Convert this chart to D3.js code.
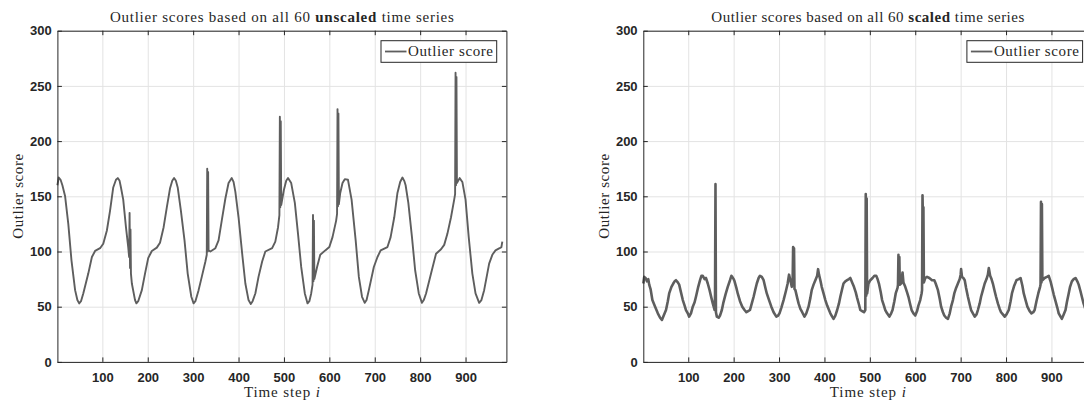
<!DOCTYPE html>
<html>
<head>
<meta charset="utf-8">
<script src="https://cdn.jsdelivr.net/npm/d3@7"></script>
<style>
  body { margin: 0; background: #fff; }
  svg { display: block; }
  .axis path, .axis line { stroke: #262626; stroke-width: 1; }
  .axis text { font-family: 'Liberation Sans', Arial, sans-serif; font-weight: bold; font-size: 13px; fill: #262626; }
  .grid line { stroke: #e3e3e3; stroke-width: 1; }
  .grid path { stroke: none; }
  .serif { font-family: 'Liberation Serif', 'Times New Roman', serif; fill: #262626; font-size: 15px; }
</style>
</head>
<body>
<script>
// unscaled series
const stepsUnscaled = [1, 4, 8, 12, 18, 25, 32, 40, 45, 49, 53, 58, 69, 77, 84, 95, 102, 110, 117, 124, 130, 134, 138, 141, 146, 152, 157,
  159, 160, 161, 162, 163, 165, 172, 175, 179, 187, 194, 201, 209, 220, 227, 235, 242, 249, 254, 258, 262, 266, 273, 281, 288, 296, 301, 305,
  312, 319, 327, 330, 331, 332, 333, 334, 338, 349, 356, 363, 371, 378, 385, 389, 393, 400, 408, 415, 422, 427, 431, 437, 444, 452, 459, 474,
  481, 487, 490, 491, 492, 493, 494, 500, 505, 509, 516, 524, 531, 538, 546, 552, 556, 560, 563, 564, 565, 566, 567, 573, 580, 591, 600, 607,
  615, 617, 618, 619, 620, 621, 624, 629, 634, 641, 649, 658, 665, 672, 678, 682, 687, 698, 706, 713, 728, 735, 743, 750, 756, 761, 765, 768,
  774, 782, 789, 797, 804, 808, 813, 824, 835, 846, 853, 860, 868, 875, 877, 878, 879, 880, 881, 887, 893, 900, 907, 915, 922, 930, 935, 941,
  952, 959, 966, 975, 979, 981]
const scoresUnscaled = [160, 167, 165, 160, 150, 125, 92, 65, 56, 53, 55, 62, 80, 95, 100.5, 103, 107, 119, 137, 158, 165, 166.5, 164, 158, 147, 122, 104,
  95, 135, 85, 120, 80, 71, 56, 53, 55, 65, 80, 94, 100.5, 103.5, 108, 122, 140, 157, 164, 166.5, 164, 158, 137, 110, 80, 59, 53, 55,
  65, 77, 91, 97, 175, 100, 172, 101, 100, 103, 110, 128, 148, 162, 166.5, 163, 154, 131, 98, 71, 56, 52.5, 55, 62, 77, 91, 100, 103,
  109, 122, 133, 222, 140, 218, 142, 156, 164, 166.5, 162, 144, 116, 86, 62, 53, 55, 62, 70, 133, 73, 128, 75, 86, 97, 101, 104, 113,
  128, 134, 229, 141, 225, 143, 153, 162, 165.5, 165, 147, 110, 77, 59, 53.5, 56, 65, 86, 95, 101, 104, 113, 131, 153, 163, 167, 164, 160,
  144, 113, 83, 62, 53.5, 56, 62, 80, 98, 102, 106, 116, 131, 147, 152, 262, 160, 258, 162, 166.5, 163, 147, 113, 80, 62, 53.5, 56, 65,
  89, 97, 101, 103, 104, 109]

// scaled series
const stepsScaled = [1, 3, 6, 9, 12, 14, 17, 21, 27, 33, 38, 42, 46, 51, 55, 58, 63, 67, 70, 73, 77, 80, 84, 88, 92, 95, 99, 102, 106, 110,
  114, 117, 122, 126, 129, 132, 136, 139, 143, 147, 151, 154, 158, 159, 160, 161, 163, 167, 170, 174, 177, 182, 187, 192, 195, 197, 200, 202,
  206, 209, 214, 219, 224, 228, 232, 236, 240, 244, 248, 251, 255, 258, 262, 266, 270, 273, 278, 283, 288, 294, 298, 301, 305, 310, 315, 319,
  322, 325, 328, 330, 331, 332, 333, 334, 336, 340, 343, 347, 351, 356, 360, 365, 369, 372, 376, 380, 384, 386, 388, 391, 394, 398, 402, 406,
  410, 413, 417, 420, 424, 428, 432, 435, 439, 442, 446, 450, 454, 457, 461, 465, 469, 472, 476, 479, 483, 487, 490, 491, 492, 493, 494, 497,
  501, 506, 510, 514, 517, 520, 524, 527, 531, 534, 538, 543, 547, 550, 554, 557, 561, 562, 563, 564, 565, 566, 569, 572, 574, 578, 582, 585,
  589, 592, 596, 600, 604, 607, 611, 614, 615, 616, 617, 618, 619, 622, 626, 631, 637, 642, 645, 650, 654, 657, 661, 664, 668, 672, 676, 679,
  683, 686, 690, 694, 698, 700, 701, 703, 706, 709, 712, 716, 720, 723, 727, 731, 735, 738, 742, 745, 749, 753, 757, 760, 762, 765, 768, 771,
  775, 778, 782, 786, 789, 793, 797, 801, 806, 810, 813, 818, 823, 828, 832, 836, 839, 843, 847, 852, 856, 860, 863, 867, 871, 875, 876, 877,
  878, 879, 880, 885, 890, 894, 898, 901, 905, 909, 913, 916, 920, 923, 927, 931, 934, 938, 941, 945, 949, 953, 957, 960, 964, 967, 970, 973,
  977, 980, 983]
const scoresScaled = [71, 77, 76, 73, 75, 70, 66, 56, 50, 44, 40, 38, 42, 47, 55, 62, 68, 71, 73, 74, 72, 70, 63, 56, 51, 47, 44, 41, 44, 50,
  54, 59, 68, 74, 78, 78, 75, 76, 71, 65, 58, 53, 47, 60, 161, 45, 41, 40, 42, 47, 53, 61, 68, 74, 78, 77, 75, 73,
  67, 62, 55, 50, 47, 45, 46, 47, 53, 59, 66, 71, 76, 78, 77, 74, 67, 62, 56, 50, 45, 41, 42, 44, 49, 56, 64, 71,
  79, 74, 68, 75, 104, 70, 103, 66, 65, 58, 53, 48, 45, 41, 44, 50, 58, 65, 70, 74, 78, 84, 79, 74, 68, 62, 56, 51,
  47, 44, 41, 39, 42, 47, 53, 59, 66, 71, 73, 74, 75, 76, 72, 68, 63, 58, 52, 47, 46, 45, 47, 152, 60, 148, 62, 71,
  74, 76, 78, 78, 75, 71, 63, 56, 51, 47, 44, 41, 44, 47, 55, 62, 67, 70, 97, 72, 95, 70, 71, 81, 72, 68, 63, 59,
  52, 47, 44, 42, 46, 51, 56, 62, 65, 151, 128, 140, 72, 76, 77, 76, 74, 74, 71, 65, 57, 50, 45, 42, 40, 39, 44, 50,
  56, 62, 67, 71, 75, 79, 84, 77, 76, 74, 67, 59, 52, 47, 44, 41, 43, 47, 53, 59, 65, 71, 75, 79, 85, 78, 75, 71,
  64, 59, 53, 48, 45, 43, 41, 43, 47, 55, 62, 69, 74, 75, 76, 69, 62, 56, 50, 46, 44, 45, 47, 55, 62, 68, 70, 145,
  72, 143, 74, 76, 77, 78, 73, 68, 61, 55, 49, 44, 41, 39, 43, 47, 54, 62, 68, 73, 75, 76, 73, 70, 64, 59, 54, 50,
  45, 42, 40]

const xTicks = [100, 200, 300, 400, 500, 600, 700, 800, 900]
const yTicks = [0, 50, 100, 150, 200, 250, 300]
const lineColor = '#5e5e5e'

const svg = d3.select('body').append('svg')
  .attr('width', 1084)
  .attr('height', 401)

function drawPanel(opts) {
  const width = 449, height = 331.2
  const x = d3.scaleLinear().domain([1, 990]).range([0, width])
  const y = d3.scaleLinear().domain([0, 300]).range([height, 0])

  const g = svg.append('g')
    .attr('transform', 'translate(' + opts.left + ',' + opts.top + ')')

  g.append('g')
    .attr('class', 'grid')
    .call(d3.axisLeft(y).tickValues(yTicks).tickSize(-width).tickFormat(''))
  g.append('g')
    .attr('class', 'grid')
    .attr('transform', 'translate(0,' + height + ')')
    .call(d3.axisBottom(x).tickValues(xTicks).tickSize(-height).tickFormat(''))

  const line = d3.line()
    .x(function(d) { return x(d[0]) })
    .y(function(d) { return y(d[1]) })

  g.append('path')
    .datum(d3.zip(opts.steps, opts.scores))
    .attr('fill', 'none')
    .attr('stroke', lineColor)
    .attr('stroke-width', opts.strokeWidth)
    .attr('stroke-linejoin', 'round')
    .attr('d', line)

  // box with inward ticks on all sides
  g.append('g')
    .attr('class', 'axis')
    .attr('transform', 'translate(0,' + height + ')')
    .call(d3.axisBottom(x).tickValues(xTicks).tickSizeInner(-4.5).tickSizeOuter(0).tickPadding(10.5))
  g.append('g')
    .attr('class', 'axis')
    .call(d3.axisLeft(y).tickValues(yTicks).tickSizeInner(-4.5).tickSizeOuter(0).tickPadding(5.7))
  g.append('g')
    .attr('class', 'axis')
    .call(d3.axisTop(x).tickValues(xTicks).tickSizeInner(-4.5).tickSizeOuter(0).tickFormat(''))
  g.append('g')
    .attr('class', 'axis')
    .attr('transform', 'translate(' + width + ',0)')
    .call(d3.axisRight(y).tickValues(yTicks).tickSizeInner(-4.5).tickSizeOuter(0).tickFormat(''))

  // title (Computer Modern is wider than the available serif, so stretch the spacing)
  const title = g.append('text')
    .attr('class', 'serif')
    .attr('x', width / 2)
    .attr('y', -8.5)
    .attr('text-anchor', 'middle')
    .attr('textLength', opts.titleLength)
    .attr('lengthAdjust', 'spacing')
  title.append('tspan').text('Outlier scores based on all 60 ')
  title.append('tspan').attr('font-weight', 'bold').text(opts.word)
  title.append('tspan').text(' time series')

  // axis labels
  const xl = g.append('text')
    .attr('class', 'serif')
    .attr('x', width / 2)
    .attr('y', height + 35.5)
    .attr('text-anchor', 'middle')
    .attr('textLength', 76)
    .attr('lengthAdjust', 'spacing')
  xl.append('tspan').text('Time step ')
  xl.append('tspan').attr('font-style', 'italic').text('i')

  g.append('text')
    .attr('class', 'serif')
    .attr('transform', 'translate(-34.5,' + (height / 2) + ') rotate(-90)')
    .attr('text-anchor', 'middle')
    .attr('textLength', 85)
    .attr('lengthAdjust', 'spacing')
    .text('Outlier score')

  // legend
  const lg = g.append('g')
    .attr('transform', 'translate(' + (width - 9.7 - 115.7) + ',10)')
  lg.append('rect')
    .attr('width', 115.7)
    .attr('height', 21.6)
    .attr('fill', '#fff')
    .attr('stroke', '#262626')
    .attr('stroke-width', 1)
  lg.append('line')
    .attr('x1', 4).attr('x2', 25.5)
    .attr('y1', 10.8).attr('y2', 10.8)
    .attr('stroke', lineColor)
    .attr('stroke-width', 1.8)
  lg.append('text')
    .attr('class', 'serif')
    .attr('x', 27)
    .attr('y', 15.6)
    .attr('textLength', 85)
    .attr('lengthAdjust', 'spacing')
    .text('Outlier score')
}

drawPanel({left: 57.4, top: 30.7, steps: stepsUnscaled, scores: scoresUnscaled, word: 'unscaled', titleLength: 344, strokeWidth: 1.9})
drawPanel({left: 643.3, top: 30.7, steps: stepsScaled, scores: scoresScaled, word: 'scaled', titleLength: 313, strokeWidth: 2.6})
</script>
</body>
</html>
